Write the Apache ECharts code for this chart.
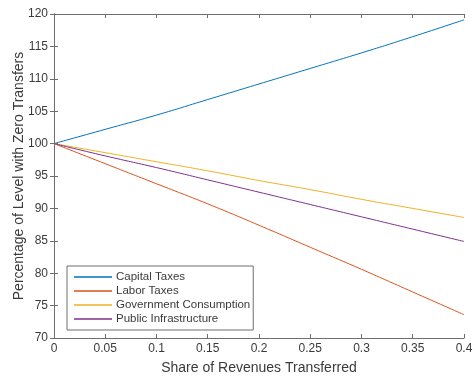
<!DOCTYPE html>
<html><head><meta charset="utf-8">
<script src="https://cdn.jsdelivr.net/npm/echarts@6/dist/echarts.min.js"></script>
<style>html,body{margin:0;padding:0;background:#fff}#c{width:474px;height:381px}</style>
</head><body><div id="c"></div>
<script>
const shares = [0, 0.05, 0.1, 0.15, 0.2, 0.25, 0.3, 0.35, 0.4];
const capitalTaxes = [100, 102.2, 104.4, 106.8, 109.2, 111.6, 114.0, 116.5, 119.1];
const laborTaxes = [100, 96.9, 93.8, 90.7, 87.4, 84.0, 80.6, 77.1, 73.6];
const govConsumption = [100, 98.6, 97.2, 95.8, 94.3, 92.9, 91.4, 90.0, 88.6];
const publicInfra = [100, 98.1, 96.3, 94.4, 92.5, 90.6, 88.7, 86.8, 84.9];
const seriesNames = ['Capital Taxes', 'Labor Taxes', 'Government Consumption', 'Public Infrastructure'];
const colors = ['#0072BD', '#D95319', '#EDB120', '#7E2F8E'];
const allData = [capitalTaxes, laborTaxes, govConsumption, publicInfra];

const axisColor = '#6e6e6e';
const textColor = '#3a3a3a';
const font = 'Liberation Sans, Arial, sans-serif';
const chart = echarts.init(document.getElementById('c'));
function baseAxis(extra) {
  return Object.assign({
    type: 'value',
    axisLine: {show: true, lineStyle: {color: axisColor, width: 1}},
    axisTick: {show: true, inside: true, length: 4, lineStyle: {color: axisColor}},
    splitLine: {show: false},
  }, extra);
}
chart.setOption({
  animation: false,
  textStyle: {fontFamily: font},
  grid: {left: 54, top: 14, right: 10, bottom: 43, containLabel: false, outerBoundsMode: 'none'},
  legend: {
    orient: 'vertical', left: 67, top: 266,
    data: seriesNames,
    icon: 'rect', itemWidth: 38, itemHeight: 1.5, itemGap: 2,
    padding: [5, 3, 5, 7],
    borderColor: '#6e6e6e', borderWidth: 1, backgroundColor: '#fff',
    textStyle: {fontSize: 11.5, color: textColor, fontFamily: font, padding: [0, 0, 0, -1]}
  },
  xAxis: [
    baseAxis({min: 0, max: 0.4, interval: 0.05, position: 'bottom',
      name: 'Share of Revenues Transferred', nameLocation: 'middle', nameGap: 23,
      nameMoveOverlap: false,
      nameTextStyle: {fontSize: 14, color: textColor, fontFamily: font},
      axisLabel: {fontSize: 12, color: textColor, margin: 5, fontFamily: font,
        formatter: v => String(+v.toFixed(2))}}),
    baseAxis({min: 0, max: 0.4, interval: 0.05, position: 'top', axisLabel: {show: false}})
  ],
  yAxis: [
    baseAxis({min: 70, max: 120, interval: 5, position: 'left',
      name: 'Percentage of Level with Zero Transfers', nameLocation: 'middle', nameGap: 28,
      nameMoveOverlap: false,
      nameTextStyle: {fontSize: 14, color: textColor, fontFamily: font},
      axisLabel: {fontSize: 12, color: textColor, margin: 6, fontFamily: font}}),
    baseAxis({min: 70, max: 120, interval: 5, position: 'right', axisLabel: {show: false}})
  ],
  series: seriesNames.map((n, i) => ({
    name: n, type: 'line', xAxisIndex: 0, yAxisIndex: 0,
    data: shares.map((s, j) => [s, allData[i][j]]),
    showSymbol: false, symbol: 'none', smooth: true,
    lineStyle: {color: colors[i], width: 1}, itemStyle: {color: colors[i]}
  }))
});
</script></body></html>
